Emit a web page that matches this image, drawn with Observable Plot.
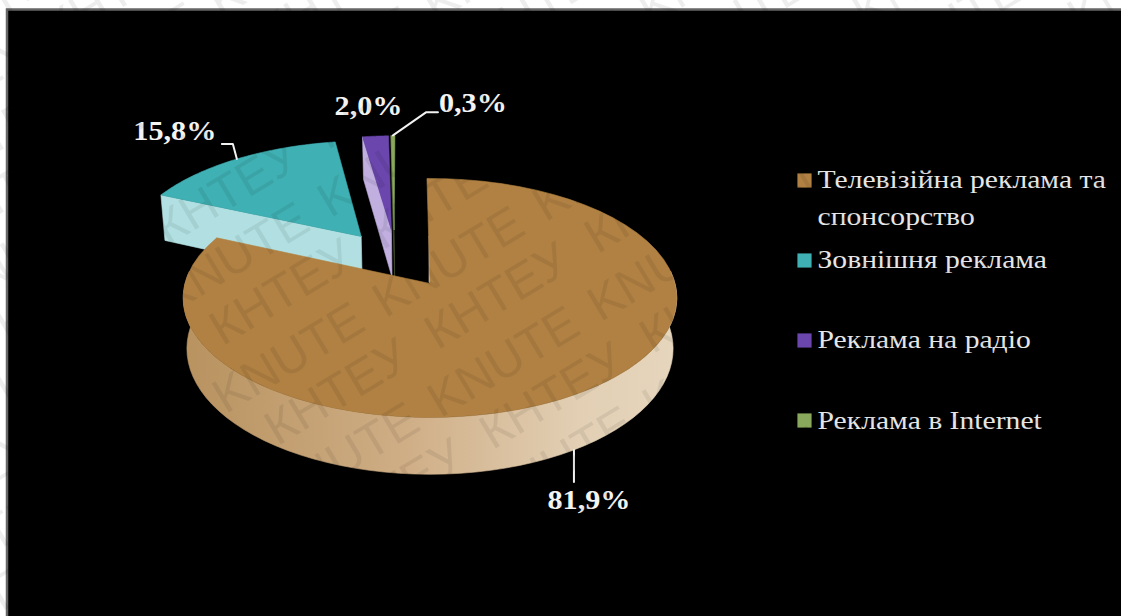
<!DOCTYPE html>
<html>
<head>
<meta charset="utf-8">
<script src="https://cdn.jsdelivr.net/npm/d3@7"></script>
<script src="https://cdn.jsdelivr.net/npm/@observablehq/plot@0.6"></script>
<style>
  html, body { margin: 0; padding: 0; background: #fff; overflow: hidden; }
  svg { display: block; }
</style>
</head>
<body>
<div id="chart"></div>
<script>
// Advertising market structure, shares in percent
const categories = ["Телевізійна реклама та\nспонсорство", "Зовнішня реклама", "Реклама на радіо", "Реклама в Internet"];
const shares = [81.9, 15.8, 2.0, 0.3];
const topColors = ["#b08142", "#3fb0b3", "#6a46ad", "#8aa85c"];
const sideColors = ["url(#rimShade)", "#b2e0e2", "#c0afdf", "#46552e"];

// Pie projection: unit disc in the plane -> screen, with mild perspective
const W = 1121, H = 616;
const view = {cx: 429.5, cy: 283, ax: 245, ay: 117.7, persp: 0.121, depth: 50, taper: 0.985, startDeg: -0.8};
// Plane offset of each slice away from the pie centre
const explode = [[0, 0], [-0.295, -0.42], [-0.1666, -0.48], [-0.155, -0.485]];
// Label and leader placement relative to the slice rim midpoint
const midNudge = [1, 0, 0, 0];
const labelOffset = [[15, 51], [-62, -27], [-7, -30], [80, -32]];
const leaderBends = [[[0, 32]], [[-4, -15], [-15, -15]], [], [[33, -23], [45, -23]]];
// Text is set slightly wide across the slide
const textStretch = 1.14;

const project = (u, v, bottom = false) => {
  const w = 1 - view.persp * v;
  const x = view.ax * u / w, y = view.ay * v / w;
  return bottom
    ? {x: view.cx + x * view.taper, y: view.cy + y + view.depth / w}
    : {x: view.cx + x, y: view.cy + y};
};
const rim = (deg, [du, dv], bottom) => {
  const t = deg * Math.PI / 180;
  return project(Math.sin(t) + du, -Math.cos(t) + dv, bottom);
};
const closed = (pts) => [...pts, pts[0]];
const face = (pts, fill) => Plot.line(closed(pts), {x: "x", y: "y", fill, stroke: fill, strokeWidth: 0.6});

// Angular extents of the slices
let acc = view.startDeg;
const spans = shares.map((s) => { const a = acc; acc += s * 3.6; return [a, acc]; });
const arc = (a, b, off, bottom) => d3.range(0, 61).map((i) => rim(a + (b - a) * i / 60, off, bottom));

const sliceTop = (i) => [project(...explode[i]), ...arc(spans[i][0], spans[i][1], explode[i], false)];
// Radial wall along the slice's leading edge, seen on the exploded slices
const radialWall = (i) => {
  const deg = spans[i][0];
  const off = explode[i];
  return [project(off[0], off[1]), rim(deg, off, false), rim(deg, off, true), project(off[0], off[1], true)];
};
// Visible outer wall of the large slice
const brownWall = [...arc(84, 276, explode[0], false), ...arc(84, 276, explode[0], true).reverse()];
// Sliver of the inner wall beside the first slice's straight edge
const innerEdge = [{x: project(0, 0).x - 1, y: project(0, -0.42).y}, {x: project(0, 0).x - 1, y: project(0, 0).y - 1}];

// Leaders and labels hang off the rim midpoint of each slice
const anchors = shares.map((_, i) => {
  const mid = (spans[i][0] + spans[i][1]) / 2 + midNudge[i];
  return rim(mid, explode[i], i === 0);
});
const leaders = anchors.flatMap((a, i) =>
  leaderBends[i].length ? [a, ...leaderBends[i].map(([dx, dy]) => ({x: a.x + dx, y: a.y + dy}))].map((p) => ({...p, i})) : []);
const valueLabels = anchors.map((a, i) => ({
  x: a.x + labelOffset[i][0],
  y: a.y + labelOffset[i][1],
  text: shares[i].toFixed(1).replace(".", ",") + "%"
}));

// Legend rows
const legendY = [180, 260, 340, 420];
const legendRows = categories.map((c, i) => ({c, y: legendY[i], color: topColors[i]}));
const legendText = [
  {t: "Телевізійна реклама та", y: 179},
  {t: "спонсорство", y: 216},
  {t: categories[1], y: 259},
  {t: categories[2], y: 339},
  {t: categories[3], y: 420}
];

// Faint diagonal wordmark tiled across the page, alternating rows of the two spellings
const wordmarkRows = [{t: "KNUTE", x: 440, y: 418}, {t: "КНТЕУ", x: 437, y: 350}];
const stamp = [];
for (let k = -6; k < 6; k++) {
  for (let c = -8; c < 10; c++) {
    for (const row of wordmarkRows) {
      const x = row.x + k * 55 + c * 160;
      const y = row.y + k * 100 - c * 96;
      // Keep words that reach the page
      if (x + 140 > 0 && x < W && y > 0 && y - 85 < H) stamp.push({x, y, t: row.t});
    }
  }
}

const gradient = () => {
  const ns = "http://www.w3.org/2000/svg";
  const defs = document.createElementNS(ns, "defs");
  const g = document.createElementNS(ns, "linearGradient");
  g.setAttribute("id", "rimShade");
  [["0%", "#b8925f"], ["45%", "#cfae86"], ["80%", "#e2cfb4"], ["100%", "#e6d6bd"]].forEach(([o, col]) => {
    const s = document.createElementNS(ns, "stop");
    s.setAttribute("offset", o);
    s.setAttribute("stop-color", col);
    g.appendChild(s);
  });
  defs.appendChild(g);
  return defs;
};

const chart = Plot.plot({
  width: W,
  height: H,
  margin: 0,
  x: {domain: [0, W], range: [0, W], axis: null},
  y: {domain: [0, H], range: [0, H], axis: null},
  style: {background: "#fff"},
  marks: [
    gradient,
    // Slide panel
    Plot.rect([{x1: 7, x2: W + 5, y1: 9.5, y2: H + 5}], {x1: "x1", x2: "x2", y1: "y1", y2: "y2", fill: "#000", stroke: "#666", strokeWidth: 2.5}),

    // Exploded slices, back to front
    face(radialWall(1), sideColors[1]),
    face(sliceTop(1), topColors[1]),
    face(radialWall(2), sideColors[2]),
    face(sliceTop(2), topColors[2]),
    face(radialWall(3), sideColors[3]),
    face(sliceTop(3), topColors[3]),

    // Large slice
    face(innerEdge.concat([{x: innerEdge[1].x + 2, y: innerEdge[1].y}, {x: innerEdge[0].x + 2, y: innerEdge[0].y}]), "#e2cfb4"),
    face(brownWall, sideColors[0]),
    face(sliceTop(0), topColors[0]),

    // Leaders
    Plot.line(leaders, {x: "x", y: "y", z: "i", stroke: "#f2f2f2", strokeWidth: 2}),

    // Value labels
    Plot.text(valueLabels, {x: "x", y: "y", text: "text", fill: "#f4f4f4", fontFamily: "Liberation Serif", fontWeight: "bold", fontSize: 26.5}),

    // Legend
    Plot.dot(legendRows, {x: () => 804, y: "y", symbol: "square", r: 8, fill: "color"}),
    Plot.text(legendText, {x: () => 817, y: "y", text: "t", textAnchor: "start", fill: "#e6e6e6", fontFamily: "Liberation Serif", fontSize: 26}),

    // Wordmark overlay
    Plot.text(stamp, {x: "x", y: "y", text: "t", rotate: -31, textAnchor: "start", lineAnchor: "bottom", fill: "#000", fillOpacity: 0.07, fontFamily: "Liberation Sans", fontSize: 49})
  ]
});
document.getElementById("chart").appendChild(chart);

// Widen the label and legend glyphs once the text can be measured
d3.select(chart).selectAll('g[font-size="26.5"] text, g[font-size="26"] text').each(function () {
  this.setAttribute("textLength", this.getComputedTextLength() * textStretch);
  this.setAttribute("lengthAdjust", "spacingAndGlyphs");
});
</script>
</body>
</html>
